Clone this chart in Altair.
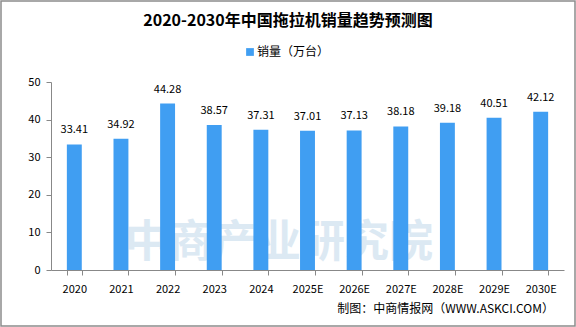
import altair as alt
import pandas as pd

years = ["2020", "2021", "2022", "2023", "2024", "2025E", "2026E", "2027E", "2028E", "2029E", "2030E"]
sales = [33.41, 34.92, 44.28, 38.57, 37.31, 37.01, 37.13, 38.18, 39.18, 40.51, 42.12]
y_ticks = [0, 10, 20, 30, 40, 50]

df = pd.DataFrame({"year": years, "sales": sales, "label": [f"{v:.2f}" for v in sales]})

W, H = 513, 188
PL, PT = 51, 82
FONT = "Noto Sans CJK SC"
BAR = "#409EF2"

x = alt.X("year:N", sort=years, title=None,
          scale=alt.Scale(paddingInner=0.68, paddingOuter=0.34),
          axis=alt.Axis(labelAngle=0, labelFont=FONT, labelFontSize=11, labelColor="#000",
                        domainColor="#888", tickColor="#888", tickBand="extent", tickSize=5,
                        labelPadding=8, labelFlush=False, labelOverlap=False))
y = alt.Y("sales:Q", title=None,
          scale=alt.Scale(domain=[0, 50], nice=False),
          axis=alt.Axis(values=y_ticks, grid=False, labelFont=FONT, labelFontSize=11,
                        labelColor="#000", domainColor="#888", tickColor="#888",
                        tickSize=5, labelPadding=6, labelOverlap=False, labelFlush=False))

base = alt.Chart(df).encode(x=x, y=y)

watermark = alt.Chart(pd.DataFrame({"t": ["中商产业研究院"]})).mark_text(
    font=FONT, fontSize=44, fontWeight="bold", color="#DCE9F3", align="center", baseline="middle"
).encode(text="t:N", x=alt.value(228), y=alt.value(162))

bars = base.mark_bar(color=BAR)
labels = base.mark_text(font=FONT, fontSize=11, color="#000", baseline="bottom", dy=-9).encode(
    text="label:N")

title = alt.Chart(pd.DataFrame({"t": ["2020-2030年中国拖拉机销量趋势预测图"]})).mark_text(
    font=FONT, fontSize=16, fontWeight="bold", color="#000", align="center", baseline="middle"
).encode(text="t:N", x=alt.value(288 - PL), y=alt.value(21 - PT))

legend_sq = alt.Chart(pd.DataFrame({"t": ["a"]})).mark_square(color=BAR, size=60, opacity=1).encode(
    x=alt.value(250 - PL), y=alt.value(52 - PT))
legend_txt = alt.Chart(pd.DataFrame({"t": ["销量（万台）"]})).mark_text(
    font=FONT, fontSize=12, color="#000", align="left", baseline="middle"
).encode(text="t:N", x=alt.value(257 - PL), y=alt.value(52 - PT))

source = alt.Chart(pd.DataFrame({"t": ["制图：中商情报网（WWW.ASKCI.COM）"]})).mark_text(
    font=FONT, fontSize=12, color="#000", align="right", baseline="middle"
).encode(text="t:N", x=alt.value(554 - PL), y=alt.value(309 - PT))

frame = alt.Chart(pd.DataFrame({"t": ["a"]})).mark_rect(
    fill=None, stroke="#8C8C8C", strokeWidth=1.5
).encode(x=alt.value(-PL + 1), x2=alt.value(576 - PL - 1), y=alt.value(-PT + 1), y2=alt.value(327 - PT - 1))

chart = alt.layer(watermark, bars, labels, title, legend_sq, legend_txt, source, frame).properties(
    width=W, height=H,
    autosize=alt.AutoSizeParams(type="none"),
    padding={"left": PL, "top": PT, "right": 576 - PL - W, "bottom": 327 - PT - H},
    background="white",
).configure_view(stroke=None)

chart.save("out.html", embed_options={"renderer": "svg", "actions": False})
